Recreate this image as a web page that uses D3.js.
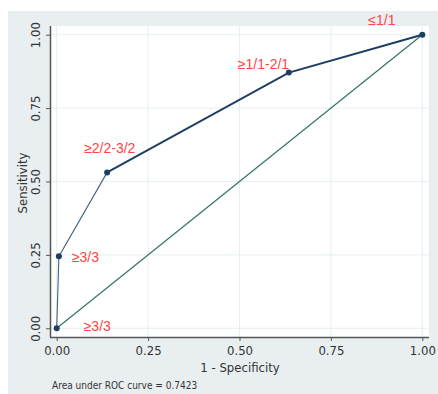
<!DOCTYPE html>
<html>
<head>
<meta charset="utf-8">
<script src="https://cdn.jsdelivr.net/npm/d3@7"></script>
<style>
  body { margin: 0; background: #fff; }
  svg { display: block; }
  .narrow { font-family: "Liberation Sans Narrow", "DejaVu Sans Condensed", "DejaVu Sans", sans-serif; font-stretch: condensed; }
</style>
</head>
<body>
<svg id="chart"></svg>
<script>
// ROC curve points (1 - specificity, sensitivity)
const fpr = [0, 0.006, 0.138, 0.635, 1];
const tpr = [0, 0.245, 0.531, 0.871, 1];
const cutLabels = ['≥3/3', '≥3/3', '≥2/2-3/2', '≥1/1-2/1', '≤1/1'];
const tickValues = [0, 0.25, 0.5, 0.75, 1];
const aucText = 'Area under ROC curve = 0.7423';

const width = 438, height = 394;
const svg = d3.select('#chart').attr('width', width).attr('height', height);

// outer panel
svg.append('rect')
    .attr('x', 8).attr('y', 11)
    .attr('width', width - 8).attr('height', height - 11)
    .attr('fill', '#e9eff1');

// plot region
const plotL = 50, plotR = 429, plotT = 26, plotB = 337;
svg.append('rect')
    .attr('x', plotL).attr('y', plotT)
    .attr('width', plotR - plotL).attr('height', plotB - plotT)
    .attr('fill', '#fff');

const x = d3.scaleLinear().domain([0, 1]).range([56.7, 422.3]);
const y = d3.scaleLinear().domain([0, 1]).range([328.3, 34.7]);

// grid
const grid = svg.append('g');
grid.selectAll('.gx').data(tickValues).enter().append('line')
    .attr('x1', d => x(d)).attr('x2', d => x(d))
    .attr('y1', plotT).attr('y2', plotB)
    .attr('stroke', '#e6eff1').attr('stroke-width', 1);
grid.selectAll('.gy').data(tickValues).enter().append('line')
    .attr('y1', d => y(d)).attr('y2', d => y(d))
    .attr('x1', plotL).attr('x2', plotR)
    .attr('stroke', '#e6eff1').attr('stroke-width', 1);

// axes
const fmt = d3.format('.2f');
const xAxis = svg.append('g')
    .attr('transform', `translate(0, ${plotB})`)
    .call(d3.axisBottom(x).tickValues(tickValues).tickFormat(fmt).tickSize(4).tickSizeOuter(0));
xAxis.select('.domain').attr('d', `M${plotL},0.5H${plotR}`).attr('stroke', '#555').attr('stroke-width', 1.5);
xAxis.selectAll('.tick line').attr('stroke', '#555');
xAxis.selectAll('.tick text')
    .attr('class', 'narrow')
    .attr('font-size', 13).attr('fill', '#333').attr('dy', '0.85em');

const yAxis = svg.append('g')
    .attr('transform', `translate(${plotL}, 0)`)
    .call(d3.axisLeft(y).tickValues(tickValues).tickFormat(fmt).tickSize(4).tickSizeOuter(0));
yAxis.select('.domain').attr('d', `M0.5,${plotT}V${plotB}`).attr('stroke', '#555').attr('stroke-width', 1.5);
yAxis.selectAll('.tick line').attr('stroke', '#555');
yAxis.selectAll('.tick text')
    .attr('class', 'narrow')
    .attr('font-size', 13).attr('fill', '#333')
    .attr('x', 0).attr('dy', 0)
    .attr('text-anchor', 'middle')
    .attr('transform', 'translate(-10,0) rotate(-90)');

// reference diagonal
svg.append('line')
    .attr('x1', x(0)).attr('y1', y(0))
    .attr('x2', x(1)).attr('y2', y(1))
    .attr('stroke', '#3a766e').attr('stroke-width', 1.3);

// ROC curve: thin lower part, thicker upper part
const pts = fpr.map((d, i) => [d, tpr[i]]);
const line = d3.line().x(d => x(d[0])).y(d => y(d[1]));
svg.append('path').datum(pts.slice(0, 3))
    .attr('d', line).attr('fill', 'none')
    .attr('stroke', '#3f6486').attr('stroke-width', 1.1);
svg.append('path').datum(pts.slice(2))
    .attr('d', line).attr('fill', 'none')
    .attr('stroke', '#1c3f62').attr('stroke-width', 2);

svg.selectAll('.pt').data(pts).enter().append('circle')
    .attr('cx', d => x(d[0])).attr('cy', d => y(d[1]))
    .attr('r', 3).attr('fill', '#1c3f62');

// cut-point labels
const labelOffsets = [[27, 3], [13, 6], [-23, -19], [-51, -4], [-54, -10]];
svg.selectAll('.lab').data(pts).enter().append('text')
    .attr('x', (d, i) => x(d[0]) + labelOffsets[i][0])
    .attr('y', (d, i) => y(d[1]) + labelOffsets[i][1])
    .attr('font-family', 'Liberation Sans, Arial, sans-serif')
    .attr('font-size', 14)
    .attr('fill', '#ff4545')
    .text((d, i) => cutLabels[i]);

// titles
svg.append('text')
    .attr('class', 'narrow')
    .attr('transform', 'translate(27,183) rotate(-90)')
    .attr('text-anchor', 'middle')
    .attr('font-size', 13).attr('fill', '#333')
    .text('Sensitivity');
svg.append('text')
    .attr('class', 'narrow')
    .attr('x', 240).attr('y', 372)
    .attr('text-anchor', 'middle')
    .attr('font-size', 13).attr('fill', '#333')
    .text('1 - Specificity');
svg.append('text')
    .attr('class', 'narrow')
    .attr('x', 52).attr('y', 389)
    .attr('font-size', 10).attr('fill', '#333')
    .text(aucText);
</script>
</body>
</html>
